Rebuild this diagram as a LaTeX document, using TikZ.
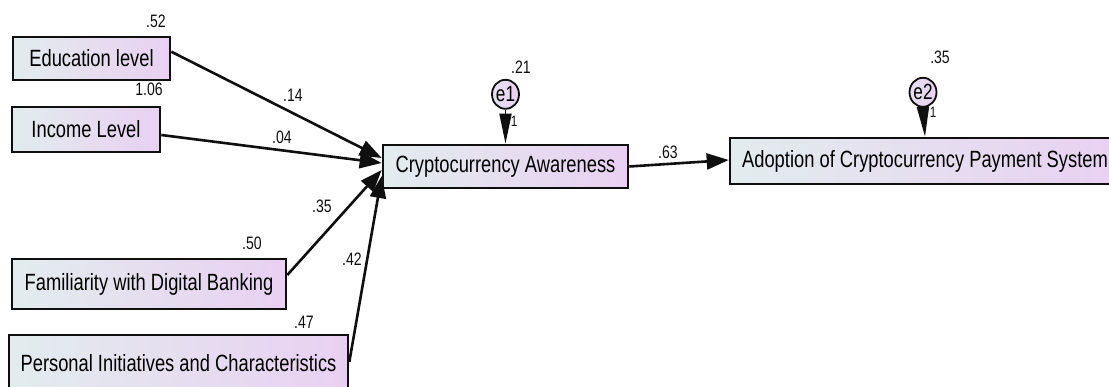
\documentclass[tikz,border=0pt]{standalone}
\usepackage{fontspec}
\setmainfont{Liberation Sans}
\newfontfamily\amosfont[FakeStretch=0.78]{Liberation Sans}
\usepackage{xcolor}
\usepackage{tikz}
\usetikzlibrary{positioning, shapes.geometric, arrows.meta, calc}

\definecolor{boxleft}{RGB}{226,236,237}
\definecolor{boxright}{RGB}{233,208,242}
\definecolor{inkdark}{RGB}{15,15,15}

\begin{document}
\begin{tikzpicture}[
  x=1pt, y=-1pt,
  obs/.style={
    rectangle, draw=inkdark, line width=2.6pt,
    left color=boxleft, right color=boxright,
    minimum width=#1, minimum height=45pt, inner sep=0pt,
    font=\amosfont\fontsize{23.5}{25}\selectfont,
  },
  err/.style={
    ellipse, draw=inkdark, line width=1.8pt,
    left color=boxleft!60!boxright, right color=boxright,
    minimum width=23pt, minimum height=29pt, inner sep=0pt,
    font=\amosfont\fontsize{22}{23}\selectfont,
  },
  est/.style={inner sep=0pt, text=inkdark, font=\amosfont\fontsize{18}{19}\selectfont},
  fixone/.style={inner sep=0pt, text=inkdark, font=\amosfont\fontsize{15}{16}\selectfont},
  path/.style={-{Triangle[length=22pt, width=16pt]}, line width=2.6pt, inkdark},
  errpath/.style={-{Triangle[length=30pt, width=12pt]}, line width=1.8pt, inkdark},
]
\useasboundingbox (0,0) rectangle (1109,387);

% exogenous observed variables
\node[obs=157pt, minimum height=43pt] (edu)  at (91.5,58.5) {Education level};
\node[obs=148pt]                      (inc)  at (86,129.5)  {Income Level};
\node[obs=274pt, minimum height=50pt] (fam)  at (149,284)   {Familiarity with Digital Banking};
\node[obs=339pt, minimum height=56pt] (pers) at (178.5,363) {Personal Initiatives and Characteristics};

% endogenous variables
\node[obs=245pt, minimum height=43pt] (aware) at (505.5,166.5) {Cryptocurrency Awareness};
\node[obs=390pt, minimum height=46pt] (adopt) at (925,161)     {Adoption of Cryptocurrency Payment System};

% error terms
\node[err, above=34pt of aware.north] (e1) {e1};
\node[err, above=29pt of adopt.north, xshift=-2pt] (e2) {e2};

\draw[path] ([yshift=6.8pt]edu.east)  -- ([yshift=8.5pt]aware.west);
\draw[path] ([yshift=-5.5pt]inc.east) -- ([yshift=3.5pt]aware.west);
\draw[path] ([yshift=9pt]fam.east)    -- ([yshift=-3.5pt]aware.west);
\draw[path] ([yshift=1pt]pers.east)   -- ([yshift=-9.5pt]aware.west);
\draw[path] (aware.east) -- ([yshift=1pt]adopt.west);

\foreach \e/\v in {e1/aware, e2/adopt}
  \draw[errpath] (\e.south) -- (\v.north);

% variances
\node[est] (vEdu)  at (156,21)  {.52};
\node[est] (vInc)  at (149,89)  {1.06};
\node[est] (vFam)  at (252,243) {.50};
\node[est] (vPers) at (304,322) {.47};
\node[est] (vE1)   at (521,67)  {.21};
\node[est] (vE2)   at (940,57)  {.35};

% regression weights
\node[est] (wEdu)   at (293,95)  {.14};
\node[est] (wInc)   at (282,137) {.04};
\node[est] (wFam)   at (322,206) {.35};
\node[est] (wPers)  at (352,259) {.42};
\node[est] (wAware) at (668,152) {.63};

\node[fixone] (oneA) at (514,121) {1};
\node[fixone] (oneB) at (933,112) {1};
\end{tikzpicture}
\end{document}
